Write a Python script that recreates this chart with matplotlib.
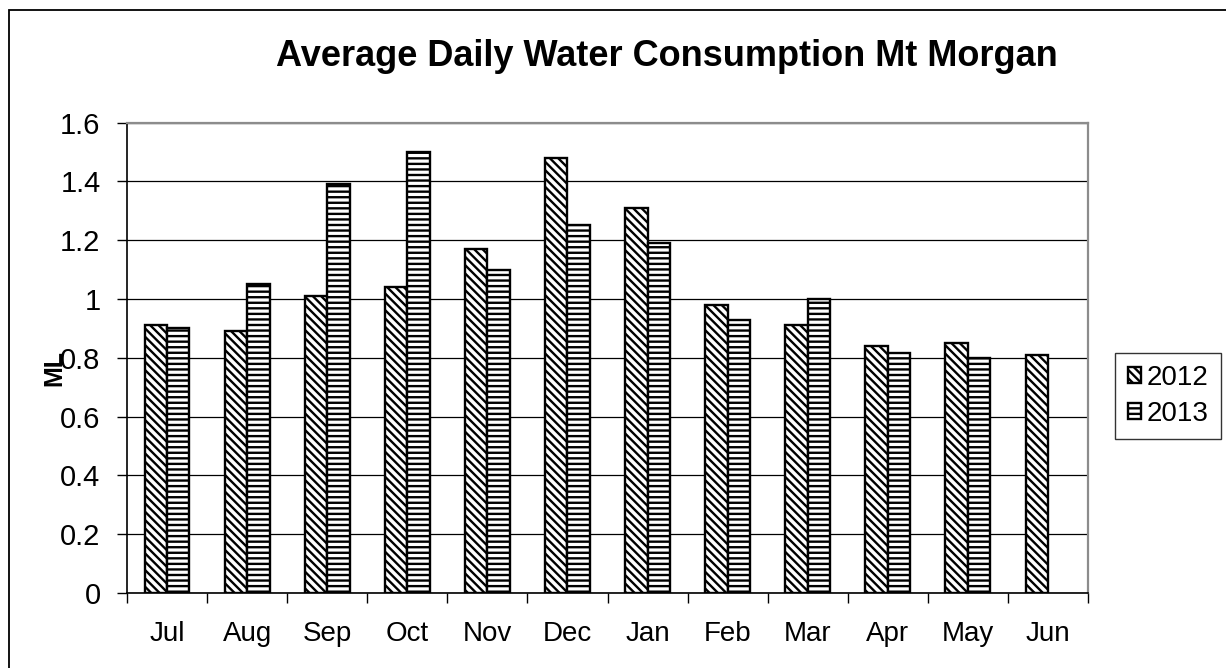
import numpy as np
import matplotlib
matplotlib.use("Agg")
import matplotlib.pyplot as plt
from matplotlib.patches import Rectangle

plt.rcParams['font.family'] = ['Liberation Sans', 'DejaVu Sans']
plt.rcParams['hatch.linewidth'] = 1.7

months = ["Jul", "Aug", "Sep", "Oct", "Nov", "Dec", "Jan", "Feb", "Mar", "Apr", "May", "Jun"]
values_2012 = [0.91, 0.89, 1.01, 1.04, 1.17, 1.48, 1.31, 0.98, 0.91, 0.84, 0.85, 0.81]
values_2013 = [0.90, 1.05, 1.39, 1.50, 1.10, 1.25, 1.19, 0.93, 1.00, 0.815, 0.80, np.nan]
series_names = ["2012", "2013"]

W, H = 1226, 668
fig = plt.figure(figsize=(W / 100, H / 100), dpi=100)
axis = fig.add_axes([127 / W, 1 - 593 / H, (1088 - 127) / W, (593 - 122.5) / H])

x = np.arange(len(months))
width = 0.28
axis.bar(x - width / 2, values_2012, width, color="white", edgecolor="black",
         linewidth=1.7, hatch="\\\\\\\\", label=series_names[0], zorder=3)
axis.bar(x + width / 2, values_2013, width, color="white", edgecolor="black",
         linewidth=1.7, hatch="---", label=series_names[1], zorder=3)

axis.set_xlim(-0.5, len(months) - 0.5)
axis.set_ylim(0, 1.6)
axis.set_yticks(np.arange(0, 1.61, 0.2))
axis.set_yticklabels(["0", "0.2", "0.4", "0.6", "0.8", "1", "1.2", "1.4", "1.6"])
axis.yaxis.grid(True, color="black", linewidth=0.9, zorder=0)
axis.set_axisbelow(True)

# ticks between categories, labels at the centres
axis.set_xticks(np.arange(-0.5, len(months), 1.0))
axis.set_xticklabels([])
axis.set_xticks(x, minor=True)
axis.set_xticklabels(months, minor=True)
axis.tick_params(axis="x", which="major", direction="out", length=7, width=1, color="black")
axis.tick_params(axis="x", which="minor", length=0, pad=20, labelsize=20)
axis.tick_params(axis="y", direction="out", length=7, width=1, pad=12, labelsize=21)

for side in ["left", "bottom"]:
    axis.spines[side].set_color("black")
    axis.spines[side].set_linewidth(1.2)
for side in ["top", "right"]:
    axis.spines[side].set_color("#8c8c8c")
    axis.spines[side].set_linewidth(1.6)

fig.text(54 / W, 1 - 368 / H, "ML", rotation=90, fontsize=18, fontweight="bold",
         ha="center", va="center")
fig.text(667 / W, 1 - 66 / H, "Average Daily Water Consumption Mt Morgan",
         fontsize=26, fontweight="bold", ha="center", va="baseline")

leg = axis.legend(loc="center left", bbox_to_anchor=(1115 / W, 1 - 396 / H),
                  bbox_transform=fig.transFigure, fontsize=20, frameon=True,
                  fancybox=False, edgecolor="black", handlelength=0.5,
                  handleheight=0.5, handletextpad=0.2, borderpad=0.45,
                  labelspacing=0.35, borderaxespad=0)
leg.get_frame().set_linewidth(1.0)

fig.patches.append(Rectangle((9 / W, -0.1), 1.2, 1.1 - 10 / H, transform=fig.transFigure,
                             fill=False, edgecolor="black", linewidth=1.3))

fig.savefig("out.png", dpi=100)
